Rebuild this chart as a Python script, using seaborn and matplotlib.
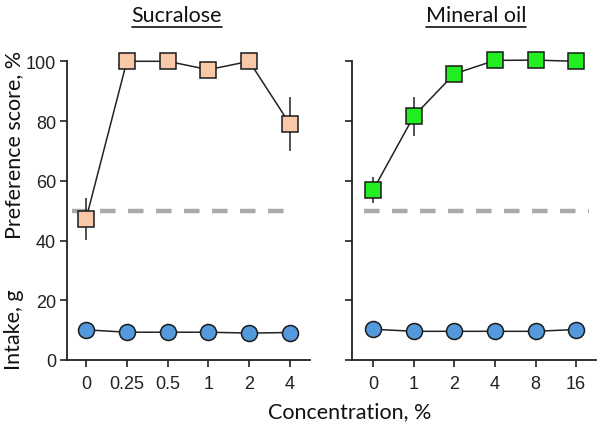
import numpy as np
import pandas as pd
import matplotlib
matplotlib.use('Agg')
from matplotlib import pyplot as plt
from matplotlib.lines import Line2D
import seaborn as sns

# data
sucr_labels = ['0', '0.25', '0.5', '1', '2', '4']
sucr_pref = [47.2, 100.0, 100.0, 97.2, 100.0, 78.9]
sucr_err = [7.0, 0.0, 0.0, 0.0, 0.0, 9.0]
sucr_intake = [10.1, 9.3, 9.3, 9.3, 9.0, 9.2]

oil_labels = ['0', '1', '2', '4', '8', '16']
oil_pref = [56.9, 81.6, 95.8, 100.3, 100.4, 100.0]
oil_err = [4.2, 6.5, 0.0, 0.0, 0.0, 0.0]
oil_intake = [10.3, 9.6, 9.6, 9.6, 9.6, 10.2]

chance = 50

sns.set_theme(style='ticks')
plt.rcParams['font.family'] = ['Liberation Sans', 'DejaVu Sans']

fig = plt.figure(figsize=(6, 4.27), dpi=100)
ax1 = fig.add_axes([0.1117, 0.1546, 0.405, 0.6995])
ax2 = fig.add_axes([0.5867, 0.1546, 0.4067, 0.6995])

panels = [
    (ax1, sucr_labels, sucr_pref, sucr_err, sucr_intake, '#F8C8A8', (-0.466, 5.49), (0.02, 0.93)),
    (ax2, oil_labels, oil_pref, oil_err, oil_intake, '#22EE22', (-0.52, 5.49), (0.05, 0.97)),
]

for ax, labels, pref, err, intake, col, xl, dash_span in panels:
    df = pd.DataFrame({'x': np.arange(len(labels)), 'pref': pref,
                       'err': err, 'intake': intake})
    ax.axhline(chance, xmin=dash_span[0], xmax=dash_span[1], color='#AAAAAA',
               lw=3.2, dashes=(3.5, 2.8), zorder=1)
    ax.errorbar(df['x'], df['pref'], yerr=df['err'], fmt='none',
                ecolor='#222222', elinewidth=1.1, capsize=0, zorder=2)
    sns.lineplot(data=df, x='x', y='pref', ax=ax, color='#222222', lw=1.1,
                 marker='s', markersize=11.5, markerfacecolor=col,
                 markeredgecolor='#1a1a1a', markeredgewidth=1.1,
                 clip_on=False, zorder=3)
    sns.lineplot(data=df, x='x', y='intake', ax=ax, color='#222222', lw=1.1,
                 marker='o', markersize=11.5, markerfacecolor='#5599DD',
                 markeredgecolor='#1a1a1a', markeredgewidth=1.1,
                 clip_on=False, zorder=3)
    ax.set_xlim(*xl)
    ax.set_ylim(0, 100)
    ax.set_xticks(df['x'])
    ax.set_xticklabels(labels)
    ax.set_yticks([0, 20, 40, 60, 80, 100])
    ax.set_xlabel('')
    ax.set_ylabel('')
    for s in ['top', 'right']:
        ax.spines[s].set_visible(False)
    for s in ['left', 'bottom']:
        ax.spines[s].set_color('#222222')
        ax.spines[s].set_linewidth(1.3)
    ax.tick_params(colors='#222222', labelsize=13, length=5, width=1.2,
                   labelcolor='#222222', pad=3)
    ax.tick_params(axis='x', pad=6)
    for lab in ax.get_xticklabels() + ax.get_yticklabels():
        lab.set_family(['Liberation Sans', 'DejaVu Sans'])
    ax.patch.set_alpha(0)

ax2.set_yticklabels([])

# titles, underlined
title_font = ['Lato', 'DejaVu Sans']
t1 = fig.text(0.295, 0.963, 'Sucralose', ha='center', va='center',
              fontsize=15.5, family=title_font, color='#111111')
t2 = fig.text(0.793, 0.963, 'Mineral oil', ha='center', va='center',
              fontsize=15.5, family=title_font, color='#111111')
fig.canvas.draw()
inv = fig.transFigure.inverted()
for t in (t1, t2):
    bb = t.get_window_extent().transformed(inv)
    y = bb.y0 - 0.004
    fig.add_artist(Line2D([bb.x0, bb.x1], [y, y], transform=fig.transFigure,
                          color='#111111', lw=1.2))

fig.text(0.024, 0.66, 'Preference score, %', rotation=90, ha='center',
         va='center', fontsize=15.5, family=title_font, color='#111111')
fig.text(0.024, 0.228, 'Intake, g', rotation=90, ha='center',
         va='center', fontsize=15.5, family=title_font, color='#111111')
fig.text(0.582, 0.035, 'Concentration, %', ha='center', va='center',
         fontsize=15.5, family=title_font, color='#111111')

plt.savefig('out.png', dpi=100)
